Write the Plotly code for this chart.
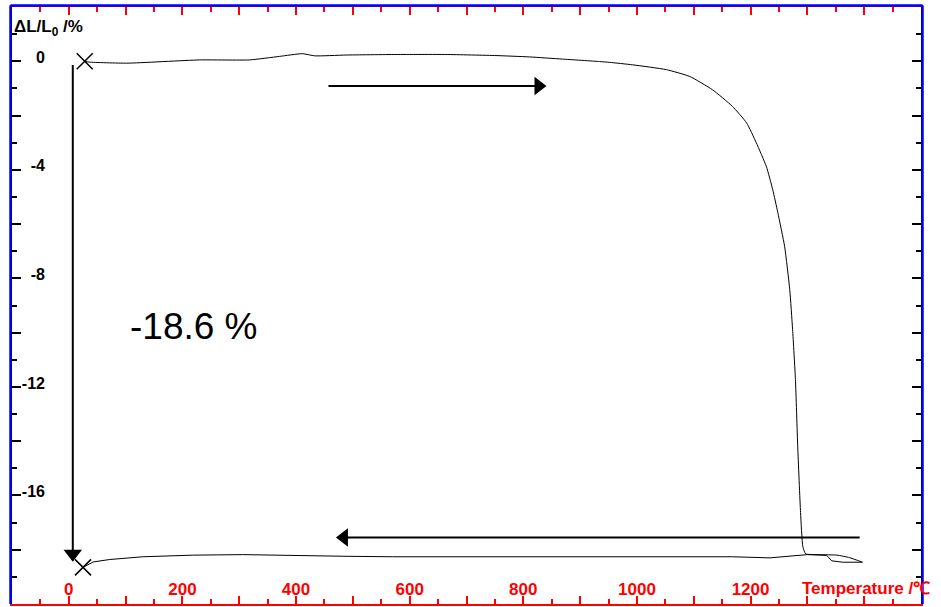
import math
import plotly.graph_objects as go

# ---- data ----
heat_T = [28, 36, 102, 230, 318, 371, 411, 433, 488, 576, 664, 752, 811, 869, 934, 952,
          992, 1052, 1093, 1133, 1168, 1193, 1210, 1228, 1239, 1248, 1260, 1269, 1274,
          1279, 1283, 1288, 1292, 1297, 1322, 1352, 1374, 1397]
heat_dL = [0.0, -0.03, -0.07, 0.05, 0.05, 0.18, 0.28, 0.20, 0.23, 0.25, 0.25, 0.21, 0.16,
           0.08, -0.01, -0.04, -0.13, -0.31, -0.56, -1.05, -1.66, -2.27, -3.0, -3.89,
           -4.73, -5.58, -6.83, -8.42, -9.89, -11.73, -14.2, -16.63, -17.88, -18.15,
           -18.18, -18.2, -18.29, -18.46]

cool_T = [1397, 1362, 1343, 1337, 1334, 1300, 1269, 1234, 1168, 992, 723, 630, 570, 482,
          394, 306, 218, 130, 72, 43, 25]
cool_dL = [-18.46, -18.46, -18.41, -18.29, -18.21, -18.18, -18.24, -18.30, -18.26, -18.26,
           -18.28, -18.28, -18.26, -18.24, -18.20, -18.18, -18.20, -18.26, -18.36, -18.45,
           -18.65]

mark_T = [28, 25]
mark_dL = [0.0, -18.65]

x_label_vals = [0, 200, 400, 600, 800, 1000, 1200]
y_label_vals = [0, -4, -8, -12, -16]

x_range = [-100, 1500]
y_range = [-20, 2]

# arrows: (head_x, head_y, tail_x, tail_y, direction)
arrows = [
    (843, -0.91, 457, -0.91, "right"),
    (468, -17.55, 1392, -17.55, "left"),
    (7, -18.49, 7, -0.14, "down"),
]

shrink_text = "-18.6 %"
shrink_pos = (220, -9.79)

FONT = "Arial, 'Liberation Sans', sans-serif"

# plot-area size in px (for arrow-head offsets)
W, H = 909, 597
sx = W / (x_range[1] - x_range[0])
sy = H / (y_range[1] - y_range[0])
HEAD = 16
tip_px = HEAD / 2 * 2 / math.sqrt(3)

fig = go.Figure()
fig.add_trace(go.Scatter(x=heat_T, y=heat_dL, mode="lines",
                         line=dict(color="black", width=1, shape="spline", smoothing=0.5),
                         hoverinfo="skip"))
fig.add_trace(go.Scatter(x=cool_T, y=cool_dL, mode="lines",
                         line=dict(color="black", width=1), hoverinfo="skip"))
fig.add_trace(go.Scatter(x=mark_T, y=mark_dL, mode="markers",
                         marker=dict(symbol="x-thin", size=16, color="black",
                                     line=dict(color="black", width=1.5)),
                         hoverinfo="skip"))

for hx, hy, tx, ty, d in arrows:
    dx, dy = {"right": (1, 0), "left": (-1, 0), "down": (0, -1)}[d]
    cx = hx - dx * tip_px / sx
    cy = hy - dy * tip_px / sy
    fig.add_trace(go.Scatter(x=[tx, cx], y=[ty, cy], mode="lines",
                             line=dict(color="black", width=2), hoverinfo="skip"))
    fig.add_trace(go.Scatter(x=[cx], y=[cy], mode="markers",
                             marker=dict(symbol="triangle-" + d, size=HEAD, color="black",
                                         line=dict(width=0)),
                             hoverinfo="skip"))

# carrier trace so the label-only overlay axes get drawn
fig.add_trace(go.Scatter(x=[], y=[], xaxis="x2", yaxis="y2", hoverinfo="skip"))

annotations = [
    dict(x=shrink_pos[0], y=shrink_pos[1], xref="x", yref="y",
         text=shrink_text, showarrow=False,
         font=dict(family=FONT, size=37, color="black")),
    dict(x=0.0, y=0.965, xref="paper", yref="paper",
         xanchor="left", yanchor="middle",
         text="ΔL/L<sub>0</sub> /%", showarrow=False,
         font=dict(family=FONT, size=17, color="black", weight="bold")),
    dict(x=0.867, y=0.0268, xref="paper", yref="paper",
         xanchor="left", yanchor="middle",
         text="Temperature /℃", showarrow=False,
         font=dict(family=FONT, size=17, color="red", weight="bold")),
]

shapes = [
    dict(type="line", xref="paper", yref="paper", x0=-1.5 / W, x1=-1.5 / W, y0=0,
         y1=1 + 1.5 / H, line=dict(color="blue", width=2.5)),
    dict(type="line", xref="paper", yref="paper", x0=-1.5 / W, x1=1 + 1.5 / W,
         y0=1 + 1.5 / H, y1=1 + 1.5 / H, line=dict(color="blue", width=2.5)),
    dict(type="line", xref="paper", yref="paper", x0=1 + 1.5 / W, x1=1 + 1.5 / W,
         y0=0, y1=1 + 1.5 / H, line=dict(color="blue", width=2.5)),
]

fig.update_layout(
    width=941, height=607,
    margin=dict(l=12, r=20, t=7, b=3),
    paper_bgcolor="white", plot_bgcolor="white",
    showlegend=False,
    xaxis=dict(range=x_range, showgrid=False, zeroline=False, showline=True,
               linecolor="red", linewidth=1.5, mirror="allticks",
               ticks="inside", tickcolor="red", ticklen=8, tickwidth=1.5,
               tick0=0, dtick=100, showticklabels=False,
               minor=dict(ticks="inside", ticklen=5, tick0=0, dtick=50,
                          tickcolor="red", tickwidth=1.5, showgrid=False)),
    yaxis=dict(range=y_range, showgrid=False, zeroline=False, showline=True,
               linecolor="black", linewidth=1.5, mirror="allticks",
               ticks="inside", tickcolor="black", ticklen=9, tickwidth=1.5,
               tick0=0, dtick=2, showticklabels=False,
               minor=dict(ticks="inside", ticklen=5, tick0=0, dtick=1,
                          tickcolor="black", tickwidth=1.5, showgrid=False)),
    xaxis2=dict(overlaying="x", anchor="free", position=0.045, side="bottom",
                range=x_range, tickvals=x_label_vals,
                ticktext=[str(v) for v in x_label_vals], ticks="", showline=False,
                showgrid=False, zeroline=False,
                tickfont=dict(family=FONT, size=17, color="red", weight="bold")),
    yaxis2=dict(overlaying="y", anchor="free", position=0.0363, side="left",
                range=y_range, tickvals=y_label_vals,
                ticktext=[str(v) for v in y_label_vals], ticks="", showline=False,
                showgrid=False, zeroline=False, ticklabelshift=-4,
                tickfont=dict(family=FONT, size=16, color="black", weight="bold")),
    annotations=annotations,
    shapes=shapes,
)

fig.write_html("out.html", config={"displayModeBar": False},
               post_script="document.body.style.margin='0';document.body.style.overflow='hidden';")
